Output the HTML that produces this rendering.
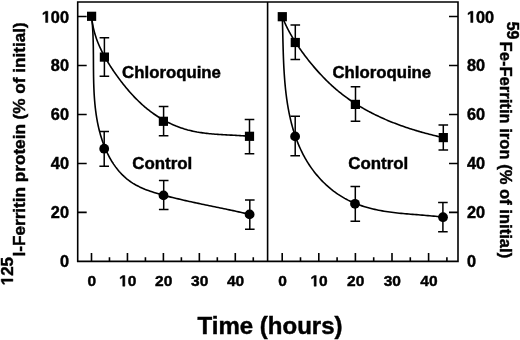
<!DOCTYPE html>
<html><head><meta charset="utf-8"><style>
html,body{margin:0;padding:0;background:#fff;}
body{width:520px;height:340px;overflow:hidden;}
svg{display:block;filter:blur(0.3px);}
text{font-family:"Liberation Sans",sans-serif;stroke:#000;stroke-width:0.45px;}
</style></head><body>
<svg width="520" height="340" viewBox="0 0 520 340">
<path d="M77.7,2.0 H458.0 V261.4 H77.7 Z M267.6,2.0 V261.4" fill="none" stroke="#000" stroke-width="1.6"/>
<path d="M77.7,212.42 h9 M458.0,212.42 h-9 M77.7,163.44 h9 M458.0,163.44 h-9 M77.7,114.46 h9 M458.0,114.46 h-9 M77.7,65.48 h9 M458.0,65.48 h-9 M77.7,16.50 h9 M458.0,16.50 h-9 M91.50,261.4 v-8.3 M282.20,261.4 v-8.3 M109.47,261.4 v-4.2 M300.50,261.4 v-4.2 M127.45,261.4 v-8.3 M318.80,261.4 v-8.3 M145.43,261.4 v-4.2 M337.10,261.4 v-4.2 M163.40,261.4 v-8.3 M355.40,261.4 v-8.3 M181.38,261.4 v-4.2 M373.70,261.4 v-4.2 M199.35,261.4 v-8.3 M392.00,261.4 v-8.3 M217.32,261.4 v-4.2 M410.30,261.4 v-4.2 M235.30,261.4 v-8.3 M428.60,261.4 v-8.3 M253.28,261.4 v-4.2 M446.90,261.4 v-4.2" fill="none" stroke="#000" stroke-width="1.6"/>
<g font-family="Liberation Sans" font-weight="bold" font-size="16.3" fill="#000">
<text x="59.93" y="267.40" font-size="16.3">0</text>
<text x="466.90" y="267.40" font-size="16.3">0</text>
<text x="50.87" y="218.42" font-size="16.3">20</text>
<text x="466.90" y="218.42" font-size="16.3">20</text>
<text x="50.87" y="169.44" font-size="16.3">40</text>
<text x="466.90" y="169.44" font-size="16.3">40</text>
<text x="50.87" y="120.46" font-size="16.3">60</text>
<text x="466.90" y="120.46" font-size="16.3">60</text>
<text x="50.87" y="71.48" font-size="16.3">80</text>
<text x="466.90" y="71.48" font-size="16.3">80</text>
<path d="M478,0 L478,1170 L140,959 L140,1180 L493,1409 L759,1409 L759,0 Z" transform="translate(41.80,22.50) scale(0.00796,-0.00796)" fill="#000" stroke="#000" stroke-width="56.5"/><text x="50.87" y="22.50" font-size="16.3">00</text>
<path d="M478,0 L478,1170 L140,959 L140,1180 L493,1409 L759,1409 L759,0 Z" transform="translate(466.90,22.50) scale(0.00796,-0.00796)" fill="#000" stroke="#000" stroke-width="56.5"/><text x="475.97" y="22.50" font-size="16.3">00</text>
</g>
<g font-family="Liberation Sans" font-weight="bold" font-size="15.5" fill="#000">
<text x="87.49" y="286.20" font-size="15.5">0</text>
<text x="278.19" y="286.20" font-size="15.5">0</text>
<path d="M478,0 L478,1170 L140,959 L140,1180 L493,1409 L759,1409 L759,0 Z" transform="translate(119.13,286.20) scale(0.00757,-0.00757)" fill="#000" stroke="#000" stroke-width="59.5"/><text x="127.75" y="286.20" font-size="15.5">0</text>
<path d="M478,0 L478,1170 L140,959 L140,1180 L493,1409 L759,1409 L759,0 Z" transform="translate(310.48,286.20) scale(0.00757,-0.00757)" fill="#000" stroke="#000" stroke-width="59.5"/><text x="319.10" y="286.20" font-size="15.5">0</text>
<text x="155.08" y="286.20" font-size="15.5">20</text>
<text x="347.08" y="286.20" font-size="15.5">20</text>
<text x="191.03" y="286.20" font-size="15.5">30</text>
<text x="383.68" y="286.20" font-size="15.5">30</text>
<text x="226.98" y="286.20" font-size="15.5">40</text>
<text x="420.28" y="286.20" font-size="15.5">40</text>
</g>
<path d="M91.60,16.30 L91.73,17.72 L91.88,19.12 L92.06,20.52 L92.25,21.91 L92.47,23.29 L92.71,24.66 L92.97,26.02 L93.25,27.37 L93.55,28.72 L93.87,30.05 L94.21,31.38 L94.57,32.70 L94.95,34.01 L95.34,35.31 L95.76,36.61 L96.19,37.90 L96.64,39.18 L97.10,40.45 L97.58,41.72 L98.08,42.98 L98.60,44.23 L99.13,45.48 L99.67,46.72 L100.23,47.95 L100.80,49.18 L101.39,50.40 L101.99,51.62 L102.61,52.83 L103.24,54.04 L103.88,55.24 L104.53,56.43 L105.20,57.63 L105.87,58.81 L106.56,59.99 L107.26,61.17 L107.97,62.34 L108.69,63.51 L109.42,64.67 L110.16,65.83 L110.91,66.99 L111.66,68.14 L112.43,69.29 L113.20,70.44 L113.98,71.58 L114.77,72.72 L115.57,73.86 L116.37,74.99 L117.18,76.12 L118.00,77.25 L118.82,78.38 L119.65,79.49 L120.49,80.61 L121.33,81.72 L122.19,82.82 L123.05,83.92 L123.91,85.02 L124.79,86.10 L125.67,87.18 L126.56,88.26 L127.46,89.33 L128.37,90.39 L129.28,91.44 L130.20,92.48 L131.13,93.52 L132.06,94.55 L133.01,95.57 L133.96,96.58 L134.92,97.58 L135.89,98.58 L136.86,99.56 L137.85,100.53 L138.84,101.50 L139.84,102.45 L140.85,103.39 L141.86,104.32 L142.89,105.24 L143.92,106.15 L144.96,107.04 L146.01,107.92 L147.07,108.79 L148.14,109.65 L149.21,110.49 L150.29,111.33 L151.38,112.14 L152.48,112.95 L153.59,113.74 L154.71,114.52 L155.83,115.28 L156.96,116.03 L158.10,116.77 L159.25,117.49 L160.40,118.20 L161.57,118.89 L162.74,119.57 L163.91,120.23 L165.10,120.88 L166.29,121.52 L167.50,122.14 L168.70,122.74 L169.92,123.33 L171.14,123.90 L172.37,124.46 L173.61,125.01 L174.86,125.53 L176.11,126.05 L177.37,126.54 L178.63,127.02 L179.91,127.48 L181.19,127.93 L182.48,128.36 L183.77,128.78 L185.07,129.17 L186.38,129.55 L187.69,129.92 L189.02,130.26 L190.34,130.59 L191.68,130.90 L193.02,131.20 L194.36,131.48 L195.72,131.74 L197.07,132.00 L198.43,132.23 L199.80,132.45 L201.17,132.66 L202.55,132.86 L203.92,133.05 L205.31,133.22 L206.69,133.39 L208.08,133.54 L209.47,133.69 L210.86,133.82 L212.25,133.95 L213.65,134.07 L215.05,134.18 L216.44,134.29 L217.84,134.39 L219.24,134.48 L220.64,134.57 L222.04,134.66 L223.44,134.74 L224.83,134.81 L226.23,134.89 L227.63,134.96 L229.02,135.03 L230.41,135.10 L231.80,135.17 L233.18,135.24 L234.57,135.31 L235.95,135.38 L237.32,135.46 L238.70,135.53 L240.06,135.61 L241.43,135.70 L242.79,135.78 L244.14,135.87 L245.49,135.97 L246.83,136.07 L248.17,136.18 L249.50,136.30" fill="none" stroke="#000" stroke-width="1.6" stroke-linejoin="round"/>
<path d="M91.59,16.30 L91.79,18.15 L91.98,20.01 L92.15,21.87 L92.31,23.73 L92.45,25.59 L92.58,27.46 L92.70,29.33 L92.80,31.21 L92.89,33.08 L92.98,34.96 L93.05,36.85 L93.12,38.73 L93.17,40.62 L93.22,42.51 L93.26,44.40 L93.30,46.29 L93.33,48.19 L93.35,50.08 L93.37,51.98 L93.39,53.88 L93.41,55.78 L93.42,57.68 L93.43,59.59 L93.44,61.49 L93.45,63.39 L93.46,65.30 L93.47,67.21 L93.48,69.11 L93.50,71.02 L93.52,72.92 L93.54,74.83 L93.57,76.73 L93.61,78.64 L93.65,80.54 L93.69,82.45 L93.75,84.35 L93.81,86.25 L93.88,88.15 L93.96,90.05 L94.05,91.95 L94.15,93.85 L94.27,95.75 L94.39,97.64 L94.53,99.53 L94.68,101.42 L94.85,103.31 L95.03,105.20 L95.22,107.08 L95.44,108.96 L95.67,110.84 L95.92,112.72 L96.18,114.59 L96.47,116.46 L96.77,118.33 L97.10,120.19 L97.44,122.05 L97.81,123.91 L98.20,125.76 L98.62,127.61 L99.06,129.46 L99.52,131.30 L100.01,133.14 L100.52,134.97 L101.06,136.80 L101.63,138.61 L102.22,140.42 L102.84,142.22 L103.49,144.01 L104.17,145.78 L104.87,147.55 L105.61,149.29 L106.37,151.02 L107.17,152.73 L107.99,154.42 L108.85,156.10 L109.73,157.75 L110.65,159.37 L111.60,160.98 L112.58,162.56 L113.60,164.11 L114.65,165.63 L115.73,167.13 L116.85,168.59 L118.00,170.02 L119.18,171.42 L120.40,172.78 L121.66,174.11 L122.95,175.41 L124.28,176.66 L125.65,177.87 L127.05,179.05 L128.49,180.18 L129.97,181.27 L131.49,182.31 L133.04,183.31 L134.63,184.27 L136.26,185.19 L137.92,186.06 L139.60,186.90 L141.32,187.70 L143.06,188.47 L144.82,189.21 L146.61,189.91 L148.41,190.59 L150.23,191.24 L152.07,191.86 L153.92,192.47 L155.78,193.04 L157.65,193.60 L159.52,194.14 L161.40,194.67 L163.28,195.18 L165.17,195.68 L167.05,196.16 L168.92,196.64 L170.79,197.11 L172.66,197.57 L174.52,198.02 L176.37,198.46 L178.23,198.90 L180.07,199.34 L181.92,199.76 L183.76,200.18 L185.59,200.60 L187.43,201.01 L189.26,201.42 L191.09,201.82 L192.91,202.22 L194.74,202.61 L196.56,203.00 L198.38,203.39 L200.20,203.77 L202.02,204.16 L203.84,204.54 L205.66,204.92 L207.48,205.30 L209.29,205.67 L211.11,206.05 L212.93,206.42 L214.75,206.80 L216.58,207.18 L218.40,207.55 L220.22,207.93 L222.05,208.31 L223.88,208.69 L225.71,209.08 L227.55,209.46 L229.39,209.85 L231.23,210.24 L233.08,210.64 L234.93,211.04 L236.78,211.44 L238.64,211.85 L240.50,212.26 L242.37,212.68 L244.25,213.10 L246.12,213.53 L248.01,213.96 L249.90,214.40" fill="none" stroke="#000" stroke-width="1.6" stroke-linejoin="round"/>
<path d="M282.29,16.71 L282.76,17.92 L283.24,19.13 L283.74,20.33 L284.25,21.53 L284.77,22.72 L285.31,23.91 L285.86,25.09 L286.42,26.26 L286.99,27.43 L287.58,28.59 L288.17,29.75 L288.78,30.91 L289.40,32.05 L290.03,33.20 L290.67,34.34 L291.32,35.47 L291.99,36.60 L292.66,37.72 L293.34,38.84 L294.03,39.96 L294.73,41.07 L295.44,42.18 L296.15,43.28 L296.88,44.38 L297.61,45.47 L298.35,46.56 L299.10,47.65 L299.86,48.73 L300.62,49.81 L301.39,50.89 L302.17,51.96 L302.96,53.03 L303.75,54.10 L304.54,55.16 L305.34,56.22 L306.15,57.28 L306.96,58.33 L307.78,59.38 L308.61,60.43 L309.44,61.47 L310.27,62.50 L311.12,63.54 L311.96,64.57 L312.82,65.59 L313.68,66.61 L314.54,67.63 L315.41,68.63 L316.29,69.64 L317.17,70.64 L318.06,71.63 L318.96,72.62 L319.86,73.60 L320.76,74.58 L321.68,75.55 L322.59,76.52 L323.52,77.47 L324.45,78.43 L325.38,79.37 L326.32,80.31 L327.27,81.24 L328.22,82.17 L329.18,83.08 L330.15,83.99 L331.12,84.90 L332.10,85.79 L333.08,86.68 L334.07,87.56 L335.06,88.43 L336.06,89.29 L337.07,90.14 L338.08,90.99 L339.10,91.83 L340.13,92.65 L341.16,93.47 L342.19,94.29 L343.24,95.09 L344.28,95.88 L345.34,96.67 L346.39,97.45 L347.46,98.22 L348.53,98.98 L349.60,99.73 L350.68,100.48 L351.77,101.22 L352.86,101.95 L353.95,102.67 L355.05,103.38 L356.16,104.09 L357.27,104.79 L358.38,105.48 L359.50,106.16 L360.63,106.83 L361.76,107.50 L362.89,108.16 L364.03,108.82 L365.17,109.46 L366.32,110.10 L367.47,110.73 L368.62,111.35 L369.78,111.97 L370.95,112.58 L372.12,113.18 L373.29,113.78 L374.46,114.37 L375.64,114.95 L376.83,115.52 L378.01,116.09 L379.20,116.65 L380.40,117.21 L381.60,117.75 L382.80,118.29 L384.00,118.83 L385.21,119.36 L386.42,119.88 L387.64,120.40 L388.85,120.90 L390.07,121.41 L391.30,121.90 L392.52,122.39 L393.75,122.88 L394.99,123.36 L396.22,123.83 L397.46,124.30 L398.70,124.76 L399.94,125.21 L401.19,125.66 L402.44,126.11 L403.69,126.54 L404.94,126.97 L406.20,127.40 L407.46,127.82 L408.71,128.24 L409.98,128.65 L411.24,129.05 L412.51,129.45 L413.77,129.85 L415.04,130.24 L416.31,130.62 L417.59,131.00 L418.86,131.37 L420.14,131.74 L421.42,132.11 L422.69,132.46 L423.97,132.82 L425.26,133.17 L426.54,133.51 L427.82,133.85 L429.11,134.19 L430.40,134.52 L431.68,134.85 L432.97,135.17 L434.26,135.49 L435.55,135.80 L436.84,136.11 L438.13,136.41 L439.43,136.71 L440.72,137.01 L442.01,137.30 L443.30,137.59" fill="none" stroke="#000" stroke-width="1.6" stroke-linejoin="round"/>
<path d="M282.30,16.71 L282.36,18.53 L282.42,20.37 L282.47,22.21 L282.53,24.06 L282.57,25.91 L282.62,27.77 L282.67,29.64 L282.71,31.52 L282.76,33.40 L282.80,35.28 L282.84,37.18 L282.89,39.07 L282.93,40.97 L282.98,42.88 L283.03,44.79 L283.08,46.70 L283.13,48.62 L283.19,50.54 L283.25,52.46 L283.31,54.39 L283.38,56.31 L283.45,58.25 L283.53,60.18 L283.61,62.11 L283.70,64.05 L283.79,65.98 L283.89,67.92 L284.00,69.86 L284.11,71.80 L284.24,73.74 L284.37,75.67 L284.51,77.61 L284.65,79.55 L284.81,81.48 L284.98,83.42 L285.16,85.35 L285.34,87.28 L285.54,89.21 L285.75,91.13 L285.97,93.06 L286.21,94.98 L286.45,96.89 L286.71,98.80 L286.98,100.71 L287.27,102.62 L287.57,104.52 L287.88,106.41 L288.21,108.30 L288.56,110.19 L288.92,112.07 L289.29,113.94 L289.69,115.81 L290.10,117.67 L290.52,119.52 L290.97,121.37 L291.43,123.21 L291.91,125.04 L292.41,126.87 L292.93,128.68 L293.47,130.49 L294.03,132.29 L294.61,134.08 L295.21,135.86 L295.83,137.63 L296.47,139.40 L297.13,141.15 L297.82,142.89 L298.53,144.62 L299.26,146.34 L300.02,148.05 L300.80,149.75 L301.61,151.44 L302.44,153.11 L303.29,154.77 L304.17,156.42 L305.08,158.06 L306.01,159.68 L306.97,161.29 L307.96,162.89 L308.97,164.47 L310.01,166.04 L311.09,167.59 L312.19,169.13 L313.31,170.65 L314.47,172.16 L315.66,173.66 L316.88,175.13 L318.12,176.59 L319.39,178.03 L320.69,179.44 L322.02,180.84 L323.37,182.21 L324.75,183.55 L326.15,184.88 L327.58,186.17 L329.03,187.44 L330.50,188.68 L332.00,189.88 L333.51,191.06 L335.05,192.20 L336.61,193.31 L338.19,194.39 L339.79,195.43 L341.40,196.43 L343.04,197.40 L344.69,198.34 L346.36,199.24 L348.04,200.11 L349.74,200.94 L351.46,201.74 L353.19,202.51 L354.93,203.24 L356.68,203.95 L358.45,204.62 L360.22,205.26 L362.01,205.87 L363.81,206.46 L365.62,207.01 L367.43,207.54 L369.26,208.04 L371.09,208.52 L372.93,208.97 L374.78,209.39 L376.63,209.80 L378.49,210.18 L380.36,210.54 L382.23,210.87 L384.11,211.19 L385.99,211.49 L387.87,211.78 L389.76,212.04 L391.66,212.30 L393.55,212.53 L395.45,212.76 L397.36,212.97 L399.26,213.18 L401.17,213.37 L403.08,213.55 L404.99,213.73 L406.90,213.90 L408.81,214.06 L410.73,214.22 L412.64,214.37 L414.55,214.52 L416.47,214.67 L418.38,214.82 L420.29,214.97 L422.20,215.13 L424.10,215.28 L426.01,215.44 L427.91,215.60 L429.81,215.77 L431.71,215.95 L433.60,216.13 L435.49,216.32 L437.37,216.52 L439.25,216.74 L441.13,216.96 L443.00,217.20" fill="none" stroke="#000" stroke-width="1.6" stroke-linejoin="round"/>
<path d="M104.40,37.80 V76.20 M99.60,37.80 h9.6 M99.60,76.20 h9.6 M163.60,106.40 V135.80 M158.80,106.40 h9.6 M158.80,135.80 h9.6 M249.50,119.60 V153.80 M244.70,119.60 h9.6 M244.70,153.80 h9.6 M104.20,131.50 V166.20 M99.40,131.50 h9.6 M99.40,166.20 h9.6 M163.70,180.40 V209.60 M158.90,180.40 h9.6 M158.90,209.60 h9.6 M249.80,199.90 V229.30 M245.00,199.90 h9.6 M245.00,229.30 h9.6 M295.30,24.90 V59.40 M290.50,24.90 h9.6 M290.50,59.40 h9.6 M355.50,86.80 V121.30 M350.70,86.80 h9.6 M350.70,121.30 h9.6 M443.30,125.10 V149.90 M438.50,125.10 h9.6 M438.50,149.90 h9.6 M295.20,116.20 V155.80 M290.40,116.20 h9.6 M290.40,155.80 h9.6 M355.30,186.60 V221.20 M350.50,186.60 h9.6 M350.50,221.20 h9.6 M442.90,202.60 V231.70 M438.10,202.60 h9.6 M438.10,231.70 h9.6" fill="none" stroke="#000" stroke-width="1.5"/>
<rect x="87.00" y="11.70" width="9.2" height="9.2" fill="#000"/>
<rect x="99.80" y="52.50" width="9.2" height="9.2" fill="#000"/>
<rect x="158.80" y="116.70" width="9.2" height="9.2" fill="#000"/>
<rect x="244.90" y="131.70" width="9.2" height="9.2" fill="#000"/>
<rect x="277.70" y="12.10" width="9.2" height="9.2" fill="#000"/>
<rect x="290.70" y="37.90" width="9.2" height="9.2" fill="#000"/>
<rect x="350.80" y="99.80" width="9.2" height="9.2" fill="#000"/>
<rect x="438.70" y="133.00" width="9.2" height="9.2" fill="#000"/>
<circle cx="104.20" cy="148.70" r="4.9" fill="#000"/>
<circle cx="163.50" cy="195.40" r="4.9" fill="#000"/>
<circle cx="249.60" cy="214.40" r="4.9" fill="#000"/>
<circle cx="295.10" cy="136.40" r="4.9" fill="#000"/>
<circle cx="355.00" cy="203.80" r="4.9" fill="#000"/>
<circle cx="443.00" cy="217.20" r="4.9" fill="#000"/>
<g font-family="Liberation Sans" font-weight="bold" font-size="16.8" fill="#000">
<text x="122.1" y="78.2">Chloroquine</text>
<text x="332.4" y="78.2">Chloroquine</text>
</g>
<g font-family="Liberation Sans" font-weight="bold" font-size="16.9" fill="#000">
<text x="132.2" y="169.4">Control</text>
<text x="348.2" y="169.4">Control</text>
</g>
<text x="197.6" y="333.9" font-family="Liberation Sans" font-weight="bold" font-size="24" fill="#000">Time (hours)</text>
<g transform="translate(24.7,285.3) rotate(-90)" font-family="Liberation Sans" font-weight="bold" fill="#000">
<path d="M478,0 L478,1170 L140,959 L140,1180 L493,1409 L759,1409 L759,0 Z" transform="translate(0.00,-11.80) scale(0.00830,-0.00830)" fill="#000" stroke="#000" stroke-width="54.2"/><text x="9.45" y="-11.80" font-size="17">25</text>
<text x="28.8" y="0" font-size="17.15">I-Ferritin protein (% of initial)</text>
</g>
<g transform="translate(499.7,21.7) rotate(90)" font-family="Liberation Sans" font-weight="bold" fill="#000">
<text x="0" y="-7.4" font-size="16">59</text>
<text x="19.9" y="0" font-size="16.6">Fe-Ferritin iron (% of initial)</text>
</g>
</svg>
</body></html>
